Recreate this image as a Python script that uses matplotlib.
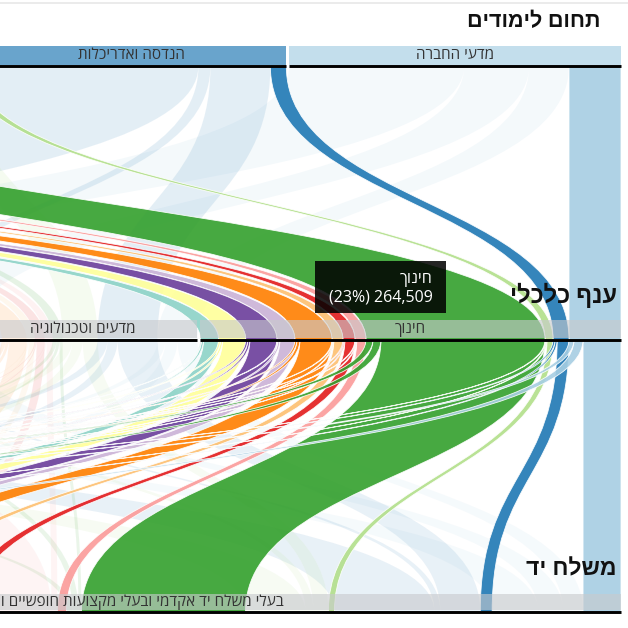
import matplotlib
matplotlib.use("Agg")
import matplotlib.pyplot as plt
import numpy as np
from matplotlib.path import Path
from matplotlib.patches import PathPatch, Rectangle

plt.rcParams["font.family"] = ["Open Sans", "Liberation Sans", "DejaVu Sans"]

# dimensions, ordered right to left (RTL layout)
FIELDS = [
    "מדעי החברה", "הנדסה ואדריכלות", "עסקים ומדעי הניהול", "חינוך והכשרה להוראה",
    "מקצועות עזר רפואיים", "רפואה", "מדעי הרוח", "מתמטיקה ומדעי המחשב",
    "משפטים", "מדעים ביולוגיים", "אמנות ועיצוב", "מדעים פיזיקליים",
]
FIELD_COLORS = [
    "#a6cee3", "#1f78b4", "#b2df8a", "#33a02c", "#fb9a99", "#e31a1c",
    "#fdbf6f", "#ff7f00", "#cab2d6", "#6a3d9a", "#ffff99", "#8dd3c7",
]
BRANCHES = ["חינוך", "מדעים וטכנולוגיה", "בריאות ורווחה", "ענפים אחרים"]
OCCUPATIONS = [
    "בעלי משלח יד אקדמי ובעלי מקצועות חופשיים וטכנאים",
    "פקידים, סוכנים ועובדי מכירות ושירותים",
    "מנהלים ומשלחי יד אחרים",
]

# persons per field of study (rows) and occupation (columns), one table per branch
EDUCATION = [
    [23870, 5690, 3140], [7460, 1320, 1270], [3810, 640, 590], [103199, 5030, 4420],
    [5730, 620, 580], [6290, 650, 610], [5680, 630, 590], [20140, 1870, 1310],
    [9420, 1260, 640], [16980, 1330, 1290], [14520, 1310, 1280], [9410, 1290, 640],
]
SCIENCE_TECH = [
    [12570, 7540, 5030], [25130, 6280, 6290], [9420, 6290, 6280], [1890, 1880, 2510],
    [3770, 630, 630], [5030, 620, 630], [3770, 630, 630], [11310, 1880, 2510],
    [1260, 630, 630], [5650, 1260, 1250], [4400, 1260, 630], [2510, 630, 630],
]
HEALTH = [
    [15710, 15700, 9420], [3770, 1880, 1890], [5030, 6280, 4400], [3770, 3140, 3770],
    [43980, 3140, 2510], [23870, 1880, 1260], [7540, 1890, 1260], [1260, 630, 630],
    [630, 630, 630], [2510, 630, 630], [5650, 1260, 630], [5030, 630, 630],
]
OTHER_BRANCHES = [
    [28900, 44610, 36440], [62830, 40840, 35810], [37700, 64090, 49010], [3770, 10680, 15710],
    [5030, 3140, 2510], [3770, 2510, 2510], [22620, 4400, 3770], [12570, 6280, 6910],
    [630, 1880, 1890], [3770, 2510, 1880], [9420, 2510, 3140], [8170, 1880, 1890],
]

HIGHLIGHT = 0  # hovered branch

flows = np.array([EDUCATION, SCIENCE_TECH, HEALTH, OTHER_BRANCHES], dtype=float)  # [branch, field, occ]
n_m, n_t, n_b = flows.shape
total = flows.sum()

AXIS_WIDTH = 1810.0
RIGHT = 621.0
GAP = 3.0
k = AXIS_WIDTH / total

Y_TOP, Y_MID, Y_BOT = 66.0, 339.5, 611.5


def rtl(s):
    return s[::-1]


def right_edges(totals):
    edges, r = [], RIGHT
    for v in totals:
        edges.append(r)
        r -= v * k + GAP
    return edges


top_tot = flows.sum(axis=(0, 2))
mid_tot = flows.sum(axis=(1, 2))
bot_tot = flows.sum(axis=(0, 1))
top_r = right_edges(top_tot)
mid_r = right_edges(mid_tot)
bot_r = right_edges(bot_tot)


def ribbon(ax, x0r, y0, x1r, y1, w, color, alpha, z):
    x0l, x1l = x0r - w, x1r - w
    ym = (y0 + y1) / 2
    verts = [(x0l, y0), (x0l, ym), (x1l, ym), (x1l, y1), (x1r, y1),
             (x1r, ym), (x0r, ym), (x0r, y0), (x0l, y0)]
    codes = [Path.MOVETO, Path.CURVE4, Path.CURVE4, Path.CURVE4, Path.LINETO,
             Path.CURVE4, Path.CURVE4, Path.CURVE4, Path.CLOSEPOLY]
    ax.add_patch(PathPatch(Path(verts, codes), facecolor=color, alpha=alpha,
                           edgecolor="white", linewidth=0.6, zorder=z))


fig = plt.figure(figsize=(6.28, 6.28), dpi=100)
ax = fig.add_axes([0, 0, 1, 1])
ax.set_xlim(0, 628)
ax.set_ylim(628, 0)
ax.axis("off")

# section 1: field -> branch
sec1 = []
top_off = np.zeros(n_t)
mid_off = np.zeros(n_m)
tm = flows.sum(axis=2)  # [branch, field]
start_mid = {}
for m in range(n_m):
    for t in range(n_t):
        start_mid[(t, m)] = mid_off[m]
        mid_off[m] += tm[m, t] * k
for t in range(n_t):
    for m in range(n_m):
        w = tm[m, t] * k
        sec1.append((m, t, top_r[t] - top_off[t], mid_r[m] - start_mid[(t, m)], w))
        top_off[t] += w

# section 2: branch -> occupation
sec2 = []
mid_off = np.zeros(n_m)
start_mid2 = {}
for m in range(n_m):
    for t in range(n_t):
        for b in range(n_b):
            start_mid2[(t, m, b)] = mid_off[m]
            mid_off[m] += flows[m, t, b] * k
bot_off = np.zeros(n_b)
for b in range(n_b):
    for t in range(n_t):
        for m in range(n_m):
            w = flows[m, t, b] * k
            sec2.append((m, t, mid_r[m] - start_mid2[(t, m, b)], bot_r[b] - bot_off[b], w))
            bot_off[b] += w

for (m, t, xa, xb, w) in sec1:
    if m != HIGHLIGHT:
        ribbon(ax, xa, Y_TOP, xb, Y_MID, w, FIELD_COLORS[t], 0.12, 1)
for (m, t, xa, xb, w) in sec2:
    if m != HIGHLIGHT:
        ribbon(ax, xa, Y_MID, xb, Y_BOT, w, FIELD_COLORS[t], 0.10, 1)
for (m, t, xa, xb, w) in sec1:
    if m == HIGHLIGHT:
        ribbon(ax, xa, Y_TOP, xb, Y_MID, w, FIELD_COLORS[t], 0.9, 2)
for (m, t, xa, xb, w) in sec2:
    if m == HIGHLIGHT:
        ribbon(ax, xa, Y_MID, xb, Y_BOT, w, FIELD_COLORS[t], 0.9, 2)


# axis bars, labels and lines
def draw_axis(names, rights, totals, y_line, bar_top, colors=None):
    for i, (name, r, v) in enumerate(zip(names, rights, totals)):
        w = v * k
        if colors is not None:
            face, alpha = colors[i], 0.67
        else:
            face, alpha = "#c8cacd", 0.62
        ax.add_patch(Rectangle((r - w, bar_top), w, y_line - 1.3 - bar_top,
                               facecolor=face, alpha=alpha, edgecolor="none", zorder=3))
        ax.plot([r - w, r], [y_line, y_line], color="black", lw=2.1,
                solid_capstyle="butt", zorder=4)
        if r > 0:  # only categories reaching into the visible window get a label
            ax.text(r - w / 2, (bar_top + y_line - 1.3) / 2, rtl(name), ha="center",
                    va="center", fontsize=11, color="#333333", zorder=5, clip_on=True)


draw_axis(FIELDS, top_r, top_tot, Y_TOP, 46, FIELD_COLORS)
draw_axis(BRANCHES, mid_r, mid_tot, Y_MID, 320)
draw_axis(OCCUPATIONS, bot_r, bot_tot, Y_BOT, 594)

ax.plot([0, 628], [2.5, 2.5], color="#e8e8e8", lw=1.2, zorder=0)

ax.text(600, 22, rtl("תחום לימודים"), ha="right", va="center", fontsize=15.5,
        fontweight="bold", color="#111111", zorder=6)
ax.text(617, 296, rtl("ענף כלכלי"), ha="right", va="center", fontsize=17,
        fontweight="bold", color="#111111", zorder=6)
ax.text(617, 569, rtl("משלח יד"), ha="right", va="center", fontsize=16.5,
        fontweight="bold", color="#111111", zorder=6)

# tooltip
hv = mid_tot[HIGHLIGHT]
ax.add_patch(Rectangle((315, 261), 131, 52, facecolor="black", alpha=0.86,
                       edgecolor="none", zorder=7))
ax.text(433, 279, rtl(BRANCHES[HIGHLIGHT]), ha="right", va="center", fontsize=11.5,
        color="white", zorder=8)
ax.text(433, 298, f"({hv / total * 100:.0f}%) {hv:,.0f}", ha="right", va="center",
        fontsize=11.5, color="white", zorder=8)

fig.savefig("out.png", dpi=100)
